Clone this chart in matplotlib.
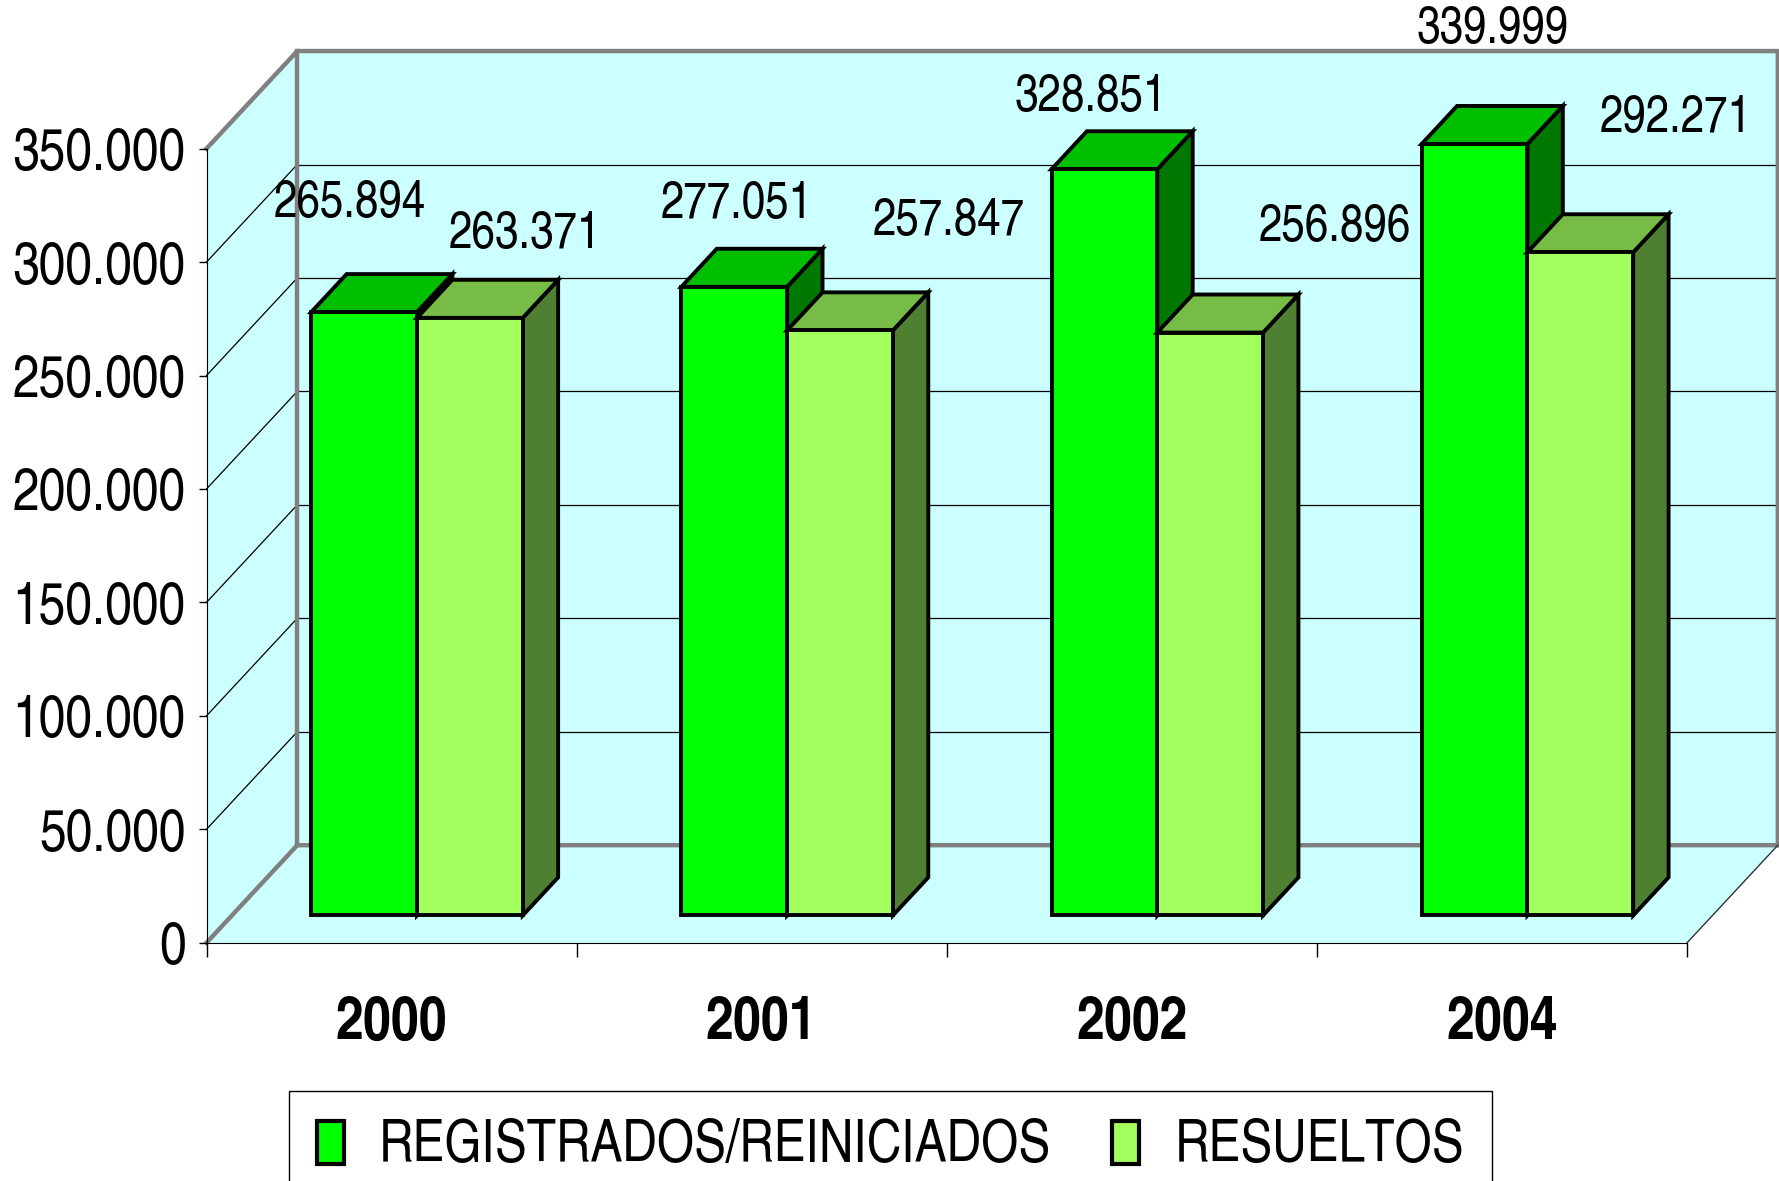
import matplotlib
matplotlib.use('Agg')
import matplotlib.pyplot as plt
from matplotlib.patches import Polygon, Patch
from matplotlib.ticker import FuncFormatter, FixedLocator

plt.rcParams['font.family'] = ['TeX Gyre Heros Cn', 'Liberation Sans Narrow', 'Liberation Sans', 'DejaVu Sans']

years = ['2000', '2001', '2002', '2004']
registrados = [265894, 277051, 328851, 339999]
resueltos = [263371, 257847, 256896, 292271]
series_names = ['REGISTRADOS/REINICIADOS', 'RESUELTOS']
yticks = [0, 50000, 100000, 150000, 200000, 250000, 300000, 350000]

# label offsets in points (Excel places them a bit irregularly)
lab_off = [[(-10, 78), (2, 59), (-10, 51), (13, 82)],
           [(40, 60), (78, 78), (90, 75), (69, 96)]]

# colours: front, top, side
cols = [('#00ff00', '#00bf00', '#007800'),
        ('#a2ff5e', '#78bc48', '#4f8032')]
wall = '#ccffff'
edge_gray = '#808080'

ymax = 350000
DX, DY = 0.2452, 43000          # depth offset of the walls
f0, f1 = 0.28, 0.67             # bar depth (front / back fraction)
bw = 1 / 3.5                    # bar width (gap 150%)

fig = plt.figure(figsize=(17.79, 11.81), dpi=100)
ax = fig.add_axes([0, 0, 1, 1])
ax.set_xlim(-0.5579, 4.2483)
ax.set_ylim(-105000, 415500)
ncat = len(years)

# walls and floor
ax.add_patch(Polygon([(DX, DY), (ncat + DX, DY), (ncat + DX, ymax + DY), (DX, ymax + DY)], fc=wall, ec='none', zorder=0))
ax.add_patch(Polygon([(0, 0), (0, ymax), (DX, ymax + DY), (DX, DY)], fc=wall, ec='none', zorder=0))
ax.add_patch(Polygon([(0, 0), (ncat, 0), (ncat + DX, DY), (DX, DY)], fc=wall, ec='none', zorder=0))

for v in yticks[1:-1]:
    ax.plot([DX, ncat + DX], [v + DY, v + DY], c='black', lw=0.9, zorder=1)
    ax.plot([0, DX], [v, v + DY], c='black', lw=0.9, zorder=1)

g = dict(c=edge_gray, lw=3.2, zorder=1, solid_capstyle='projecting')
ax.plot([0, DX, ncat + DX, ncat + DX], [ymax, ymax + DY, ymax + DY, DY], **g)
ax.plot([DX, DX], [DY, ymax + DY], **g)
ax.plot([0, DX, ncat + DX], [0, DY, DY], **g)
ax.plot([ncat, ncat + DX], [0, DY], c='#333333', lw=1, zorder=1)

# 3d bars
for i in range(ncat):
    for s, vals in enumerate([registrados, resueltos]):
        v = vals[i]
        x0 = i + 0.5 - bw + s * bw
        fc, tc, sc = cols[s]
        kw = dict(ec='black', lw=2.8, joinstyle='miter', zorder=3 + s)
        front = [(x0 + f0 * DX, f0 * DY), (x0 + bw + f0 * DX, f0 * DY),
                 (x0 + bw + f0 * DX, v + f0 * DY), (x0 + f0 * DX, v + f0 * DY)]
        top = [(x0 + f0 * DX, v + f0 * DY), (x0 + bw + f0 * DX, v + f0 * DY),
               (x0 + bw + f1 * DX, v + f1 * DY), (x0 + f1 * DX, v + f1 * DY)]
        side = [(x0 + bw + f0 * DX, f0 * DY), (x0 + bw + f1 * DX, f1 * DY),
                (x0 + bw + f1 * DX, v + f1 * DY), (x0 + bw + f0 * DX, v + f0 * DY)]
        ax.add_patch(Polygon(side, fc=sc, **kw))
        ax.add_patch(Polygon(top, fc=tc, **kw))
        ax.add_patch(Polygon(front, fc=fc, **kw))
        lab = f'{v:,}'.replace(',', '.')
        ax.annotate(lab, (x0 + bw / 2 + f0 * DX, v + f0 * DY), xytext=lab_off[s][i],
                    textcoords='offset points', ha='center', va='center', fontsize=37, zorder=6)

# axes
for sp in ['top', 'right']:
    ax.spines[sp].set_visible(False)
ax.spines['left'].set_position(('data', 0))
ax.spines['left'].set_bounds(0, ymax)
ax.spines['bottom'].set_position(('data', 0))
ax.spines['bottom'].set_bounds(0, ncat)
ax.spines['left'].set_zorder(2)
ax.spines['bottom'].set_zorder(2)

ax.set_yticks(yticks)
ax.yaxis.set_major_formatter(FuncFormatter(lambda v, p: f'{int(v):,}'.replace(',', '.')))
ax.tick_params(axis='y', direction='out', length=6, width=1, pad=9, labelsize=42)

ax.set_xticks([i + 0.5 for i in range(ncat)])
ax.set_xticklabels(years, fontsize=44, fontweight='bold')
ax.xaxis.set_minor_locator(FixedLocator(range(ncat + 1)))
ax.tick_params(axis='x', which='major', length=0, pad=38)
ax.tick_params(axis='x', which='minor', direction='out', length=10, width=1)

handles = [Patch(fc=cols[0][0], ec='black', lw=3, label=series_names[0]),
           Patch(fc=cols[1][0], ec='black', lw=3, label=series_names[1])]
fig.legend(handles=handles, loc='upper left', bbox_to_anchor=(0.1625, 0.0758), ncol=2,
           fontsize=42, frameon=True, fancybox=False, edgecolor='black', framealpha=1.0,
           handlelength=0.46, handleheight=0.75, handletextpad=0.6, columnspacing=1.05,
           borderpad=0.48, borderaxespad=0)

fig.savefig('out.png')
